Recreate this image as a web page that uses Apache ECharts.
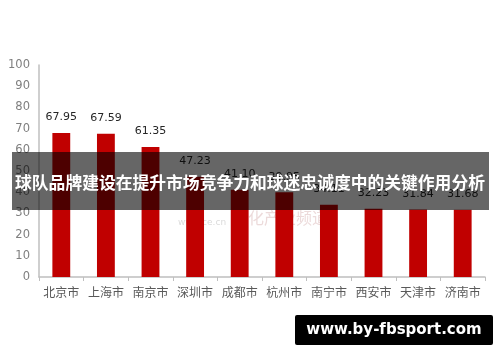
<!DOCTYPE html>
<html><head><meta charset="utf-8">
<script src="https://cdn.jsdelivr.net/npm/echarts@6/dist/echarts.min.js"></script>
<style>html,body{margin:0;padding:0;background:#fff}#c{width:500px;height:362px}</style>
</head><body><div id="c"></div>
<script>
const categories = ['北京市','上海市','南京市','深圳市','成都市','杭州市','南宁市','西安市','天津市','济南市'];
const values = [67.95, 67.59, 61.35, 47.23, 41.10, 39.95, 34.11, 32.23, 31.84, 31.68];
const yTicks = [0,10,20,30,40,50,60,70,80,90,100];
const titleText = '球队品牌建设在提升市场竞争力和球迷忠诚度中的关键作用分析';
const siteText = 'www.by-fbsport.com';

const chart = echarts.init(document.getElementById('c'), null, {renderer:'canvas'});
chart.setOption({
  animation:false,
  grid:{left:39,right:15,top:65,bottom:85,containLabel:false},
  xAxis:{type:'category',data:categories,
    axisLine:{lineStyle:{color:'#bfbfbf',width:1.5}},
    axisTick:{show:true,alignWithLabel:false,length:4,lineStyle:{color:'#bfbfbf'}},
    axisLabel:{color:'#595959',fontSize:12,margin:9,fontFamily:'Noto Sans CJK SC',interval:0}},
  yAxis:{type:'value',min:yTicks[0],max:yTicks[yTicks.length-1],interval:10,
    axisLine:{show:true,lineStyle:{color:'#bfbfbf',width:1.5}},
    axisTick:{show:false},splitLine:{show:false},
    axisLabel:{color:'#7f7f7f',fontSize:11.5,margin:9,fontFamily:'DejaVu Sans'}},
  series:[{type:'bar',data:values,barWidth:'40%',
    itemStyle:{color:'#c00000'},
    label:{show:true,position:'top',distance:10,color:'#262626',fontSize:11,fontFamily:'DejaVu Sans',
      formatter:p=>p.value.toFixed(2)}}],
  graphic:[
    {type:'text',left:178,top:218,z:1,style:{text:'www.ce.cn',fill:'rgba(150,150,150,0.35)',font:'9px DejaVu Sans'}},
    {type:'text',left:232,top:210,z:1,style:{text:'文化产业频道',fill:'rgba(200,150,150,0.35)',font:'16px Noto Sans CJK SC'}},
    {type:'rect',shape:{x:12,y:152,width:477,height:58},z:100,style:{fill:'rgba(0,0,0,0.6)'}},
    {type:'text',x:250,y:183,z:101,style:{text:titleText,fill:'#ffffff',font:'bold 16.8px Noto Sans CJK SC',align:'center',verticalAlign:'middle'}},
    {type:'rect',shape:{x:295,y:315,width:198,height:30,r:2},z:100,style:{fill:'#000000'}},
    {type:'text',x:394,y:330,z:101,style:{text:siteText,fill:'#ffffff',font:'bold 15px DejaVu Sans',align:'center',verticalAlign:'middle'}}
  ]
});
</script></body></html>
